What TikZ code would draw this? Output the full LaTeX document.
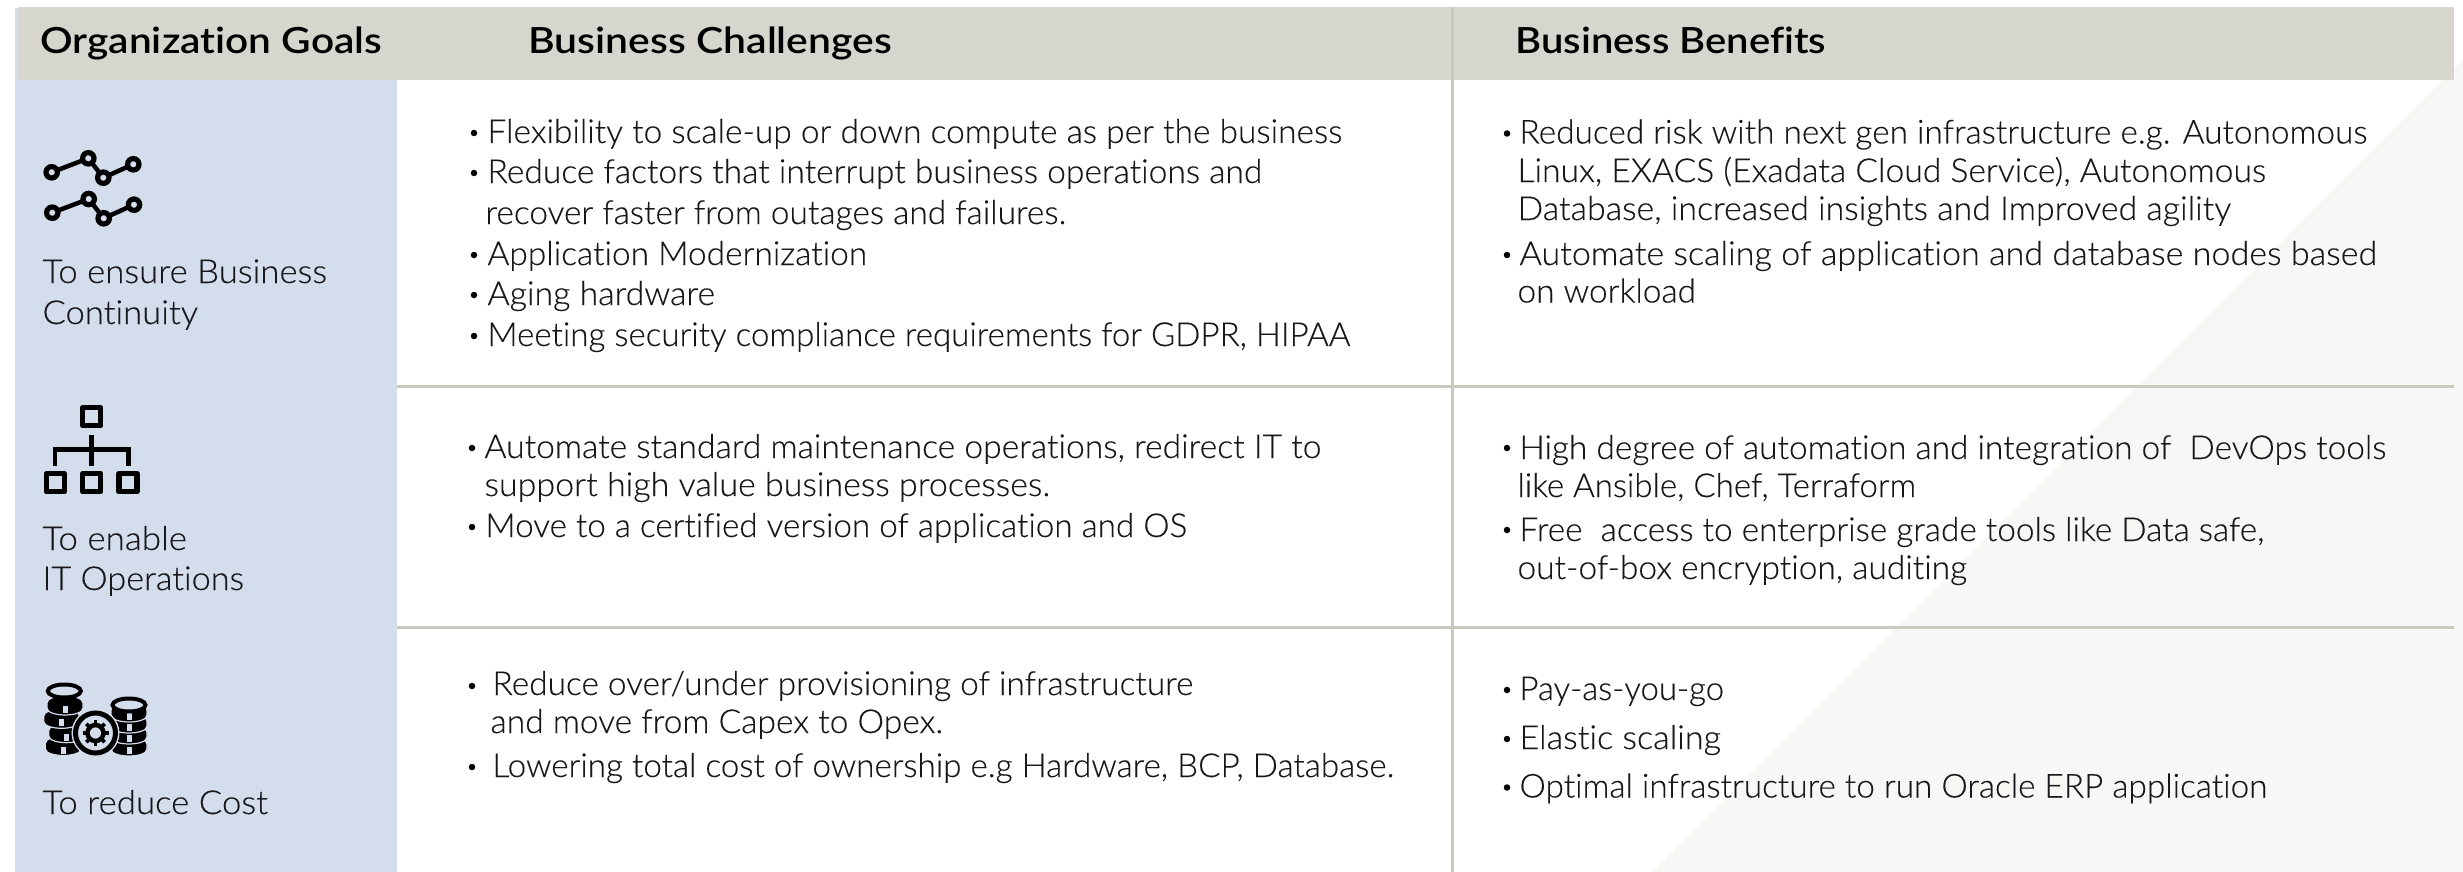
\documentclass[tikz,border=0pt]{standalone}
\usepackage{fontspec}
\usepackage{graphicx}
\setmainfont{Lato Light}[Ligatures=NoCommon,RawFeature={embolden=0.25}]
\newfontfamily\headfont{Lato Semibold}[Ligatures=NoCommon]
\definecolor{hdr}{HTML}{D6D6CE}
\definecolor{goalblue}{HTML}{D3DDEC}
\definecolor{rule}{HTML}{C8CABD}
\definecolor{tri}{HTML}{F7F7F5}
\definecolor{bodyink}{HTML}{18181C}
\newcommand{\fitw}[2]{\resizebox{\dimexpr#1pt+1.5pt\relax}{\height}{#2}}
\newcommand{\dbband}[2]{%
  \path[fill=black,draw=goalblue,line width=1.2pt]
    (#1-18,#2-12) -- (#1-18,#2-7) .. controls (#1-18,#2+2.3) and (#1+18,#2+2.3) .. (#1+18,#2-7)
    -- (#1+18,#2-12) .. controls (#1+18,#2-21.3) and (#1-18,#2-21.3) .. (#1-18,#2-12) -- cycle;
  \fill[goalblue] (#1-2.5,#2-9) rectangle (#1+2.5,#2-2);
}
\tikzset{
  x=1pt,y=-1pt,
  txt/.style={inner sep=0pt,outer sep=0pt,anchor=base west,xshift=-1.5pt,text=bodyink,font=\fontsize{33}{38}\selectfont},
  head/.style={inner sep=0pt,outer sep=0pt,anchor=base west,xshift=-1.5pt,text=black,font=\headfont\fontsize{36}{42}\selectfont},
  bul/.style={circle,fill=black,inner sep=0pt,minimum size=6.5pt},
  ln/.style={line width=4.5pt,black},
  ring/.style={circle,draw=black,line width=5.2pt,fill=goalblue,inner sep=0pt,outer sep=0pt,minimum size=11.4pt},
  sq/.style={draw=black,line width=5.5pt,line join=round,fill=none,inner sep=0pt,outer sep=0pt,minimum size=18pt},
  rl/.style={rule,line width=3pt}
}
\begin{document}
\begin{tikzpicture}
\useasboundingbox (0,0) rectangle (2463,872);
\fill[white] (0,0) rectangle (2463,872);
\fill[tri] (1652,872) -- (2463,60) -- (2463,872) -- cycle;
\fill[goalblue] (15,8) rectangle (397,872);
\fill[hdr] (18,7) rectangle (2454,80);
\draw[rl] (1452,7) -- (1452,872);
\draw[rl] (397,386.5) -- (2454,386.5);
\draw[rl] (397,627) -- (2454,627);

\node[head] (h1) at (42,54) {\fitw{340}{Organization Goals}};
\node[head] (h2) at (530,54) {\fitw{362}{Business Challenges}};
\node[head] (h3) at (1517,54) {\fitw{309}{Business Benefits}};

% goals
\node[txt] (g1a) at (44,283) {\fitw{283}{To ensure Business}};
\node[txt] (g1b) at (44,324) {\fitw{154}{Continuity}};
\node[txt] (g2a) at (44,550) {\fitw{143}{To enable}};
\node[txt] (g2b) at (44,590) {\fitw{200}{IT Operations}};
\node[txt] (g3a) at (44,814) {\fitw{224}{To reduce Cost}};

% challenges
\foreach \n/\y in {a/133,b/173,c/255,d/295,e/336}{\node[bul] (cb\n) at (474,\y) {};}
\node[txt] (c1) at (489,143) {\fitw{853}{Flexibility to scale-up or down compute as per the business}};
\node[txt] (c2) at (489,183) {\fitw{773}{Reduce factors that interrupt business operations and}};
\node[txt] (c3) at (487,224) {\fitw{579}{recover faster from outages and failures.}};
\node[txt] (c4) at (489,265) {\fitw{378}{Application Modernization}};
\node[txt] (c5) at (489,305) {\fitw{226}{Aging hardware}};
\node[txt] (c6) at (489,346) {\fitw{861}{Meeting security compliance requirements for GDPR, HIPAA}};
\foreach \n/\y in {f/448,g/527}{\node[bul] (cb\n) at (472,\y) {};}
\node[txt] (c7) at (486,458) {\fitw{835}{Automate standard maintenance operations, redirect IT to}};
\node[txt] (c8) at (486,496) {\fitw{564}{support high value business processes.}};
\node[txt] (c9) at (487,537) {\fitw{700}{Move to a certified version of application and OS}};
\foreach \n/\y in {h/686,i/767}{\node[bul] (cb\n) at (472,\y) {};}
\node[txt] (c10) at (494,695) {\fitw{699}{Reduce over/under provisioning of infrastructure}};
\node[txt] (c11) at (492,733) {\fitw{451}{and move from Capex to Opex.}};
\node[txt] (c12) at (494,777) {\fitw{900}{Lowering total cost of ownership e.g Hardware, BCP, Database.}};

% benefits
\foreach \n/\y in {a/133.5,b/255,c/448,d/530,e/690,f/739,g/787.5}{\node[bul] (bb\n) at (1507,\y) {};}
\node[txt] (b1) at (1521,143.5) {\fitw{846}{Reduced risk with next gen infrastructure e.g. Autonomous}};
\node[txt] (b2) at (1519,182) {\fitw{747}{Linux, EXACS (Exadata Cloud Service), Autonomous}};
\node[txt] (b3) at (1519,220) {\fitw{712}{Database, increased insights and Improved agility}};
\node[txt] (b4) at (1521,265) {\fitw{856}{Automate scaling of application and database nodes based}};
\node[txt] (b5) at (1519,302.5) {\fitw{177}{on workload}};
\node[txt] (b6) at (1521,459) {\fitw{865}{High degree of automation and integration of\ \ DevOps tools}};
\node[txt] (b7) at (1519,497) {\fitw{397}{like Ansible, Chef, Terraform}};
\node[txt] (b8) at (1521,541) {\fitw{743}{Free\ \ access to enterprise grade tools like Data safe,}};
\node[txt] (b9) at (1519,579) {\fitw{448}{out-of-box encryption, auditing}};
\node[txt] (b10) at (1521,700) {\fitw{203}{Pay-as-you-go}};
\node[txt] (b11) at (1521,749) {\fitw{200}{Elastic scaling}};
\node[txt] (b12) at (1521,797.5) {\fitw{746}{Optimal infrastructure to run Oracle ERP application}};

% chart icon
\draw[ln] (51.7,172.3) -- (88.3,158.3) -- (103.3,177.7) -- (133.3,164.3);
\draw[ln] (52.3,212.7) -- (88.7,199) -- (103.7,218.3) -- (134,204.7);
\foreach \n/\p in {a/{51.7,172.3},b/{88.3,158.3},c/{103.3,177.7},d/{133.3,164.3},e/{52.3,212.7},f/{88.7,199},g/{103.7,218.3},h/{134,204.7}}{\node[ring] (r\n) at (\p) {};}

% hierarchy icon
\node[sq] (s0) at (91.7,416.7) {};
\node[sq] (s1) at (55.3,482.7) {};
\node[sq] (s2) at (91.7,482.7) {};
\node[sq] (s3) at (128,482.7) {};
\draw[line width=4.5pt,black] (91.7,435) -- (91.7,466);
\draw[line width=4.5pt,black] (55,466) -- (55,449.3) -- (128.3,449.3) -- (128.3,466);

% database and gear icon
\dbband{63.3}{755.5}
\dbband{66.7}{742.7}
\dbband{61.7}{728.3}
\dbband{65}{715}
\path[fill=goalblue,draw=black,line width=4pt] (64.3,691) ellipse (16.5 and 6.5);
\dbband{129}{756}
\dbband{129}{744}
\dbband{129}{733}
\dbband{129}{722}
\path[fill=goalblue,draw=black,line width=4pt] (129,705) ellipse (16.5 and 6.5);
\fill[goalblue] (95.5,733) circle[radius=24];
\draw[black,line width=5pt] (95.5,733) circle[radius=20];
\foreach \a in {0,45,...,315}{\draw[black,line width=3.6pt] (95.5,733) ++(\a:8) -- ++(\a:5);}
\draw[black,line width=4.5pt] (95.5,733) circle[radius=8];

\end{tikzpicture}
\end{document}
